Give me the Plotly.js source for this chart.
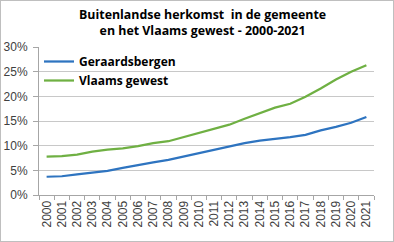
<!DOCTYPE html>
<html>
<head>
<meta charset="utf-8">
<script src="https://cdn.plot.ly/plotly-3.0.1.min.js"></script>
<style>
html,body{margin:0;padding:0;background:#fff;}
#wrap{position:relative;width:394px;height:242px;}
#chart{width:394px;height:242px;}
#frame{position:absolute;left:0;top:0;width:392px;height:240px;border:1px solid #bfbfbf;pointer-events:none;}
</style>
</head>
<body>
<div id="wrap"><div id="chart"></div><div id="frame"></div></div>
<script>
const years = ['2000','2001','2002','2003','2004','2005','2006','2007','2008','2009','2010','2011','2012','2013','2014','2015','2016','2017','2018','2019','2020','2021'];
const geraardsbergen = [0.037,0.038,0.042,0.045,0.049,0.055,0.061,0.066,0.071,0.078,0.0845,0.092,0.099,0.105,0.110,0.1135,0.1175,0.122,0.131,0.138,0.1465,0.158];
const vlaamsGewest = [0.078,0.079,0.082,0.088,0.092,0.0945,0.099,0.105,0.109,0.117,0.126,0.133,0.1425,0.1545,0.165,0.177,0.185,0.199,0.216,0.234,0.250,0.263];
const seriesNames = ['Geraardsbergen','Vlaams gewest'];
const chartTitle = 'Buitenlandse herkomst  in de gemeente<br>en het Vlaams gewest - 2000-2021';

const traces = [
  {x: years, y: geraardsbergen, name: seriesNames[0], type: 'scatter', mode: 'lines',
   line: {color: '#2E74C0', width: 2.25}},
  {x: years, y: vlaamsGewest, name: seriesNames[1], type: 'scatter', mode: 'lines',
   line: {color: '#6FB043', width: 2.25}}
];

const layout = {
  width: 394, height: 242,
  margin: {l: 39, r: 20, t: 47, b: 47},
  paper_bgcolor: '#fff', plot_bgcolor: '#fff',
  font: {family: 'Liberation Sans, sans-serif', color: '#404040'},
  annotations: [{
    text: chartTitle, xref: 'paper', yref: 'paper', x: 0.487, y: 1.165,
    xanchor: 'center', yanchor: 'middle', showarrow: false, align: 'center',
    font: {family: 'Open Sans, sans-serif', size: 12.4, color: '#000', weight: 'bold'}
  }],
  showlegend: true,
  legend: {x: 0.0, y: 1.0, xanchor: 'left', yanchor: 'top', bgcolor: 'rgba(0,0,0,0)',
           font: {family: 'Open Sans, sans-serif', size: 12, color: '#000', weight: 'bold'},
           itemwidth: 30},
  xaxis: {type: 'category', tickson: 'boundaries', ticks: 'outside', ticklen: 4, tickcolor: '#a6a6a6',
          showline: true, linecolor: '#a6a6a6', linewidth: 1, showgrid: false,
          tickangle: -90, tickfont: {size: 12, color: '#404040', family: 'Liberation Sans, sans-serif'},
          range: [-0.5, 21.5], fixedrange: true},
  yaxis: {range: [0, 0.30], dtick: 0.05, tickformat: '.0%', showgrid: true, gridcolor: '#c8c8c8', gridwidth: 1,
          showline: true, linecolor: '#a6a6a6', linewidth: 1, ticks: 'outside', ticklen: 5, tickcolor: '#a6a6a6',
          ticklabelstandoff: 3,
          zeroline: false, tickfont: {size: 12, color: '#404040', family: 'Liberation Sans, sans-serif'},
          fixedrange: true}
};

Plotly.newPlot('chart', traces, layout, {displayModeBar: false, staticPlot: true});
</script>
</body>
</html>
